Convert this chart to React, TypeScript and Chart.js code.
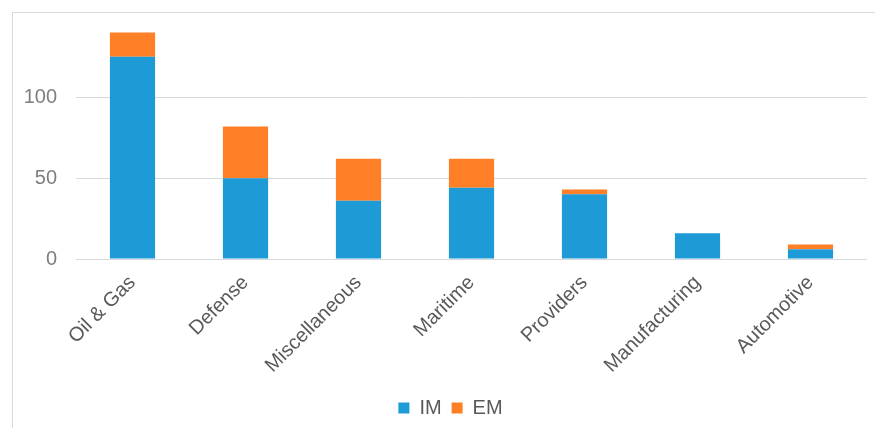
import React, { useEffect, useRef } from "react";
import { Chart, registerables } from "chart.js";

Chart.register(...registerables);

const categories = ["Oil & Gas", "Defense", "Miscellaneous", "Maritime", "Providers", "Manufacturing", "Automotive"];
const imValues = [125, 50, 36, 44, 40, 16, 6];
const emValues = [15, 32, 26, 18, 3, 0, 3];
const yTicks = [0, 50, 100];

const legendShift = {
  id: "legendShift",
  afterLayout(chart: any) {
    if (chart.legend) {
      chart.legend.left += 17;
      chart.legend.right += 17;
    }
  },
};

export default function App() {
  const ref = useRef<HTMLCanvasElement>(null);
  useEffect(() => {
    if (!ref.current) return;
    const chart = new Chart(ref.current, {
      type: "bar",
      data: {
        labels: categories,
        datasets: [
          { label: "IM", data: imValues, backgroundColor: "#1E9BD7", barPercentage: 0.4, categoryPercentage: 1 },
          { label: "EM", data: emValues, backgroundColor: "#FF7F27", barPercentage: 0.4, categoryPercentage: 1 },
        ],
      },
      plugins: [legendShift],
      options: {
        animation: false,
        responsive: false,
        maintainAspectRatio: false,
        layout: { padding: { top: 19.5, right: 8, left: 0, bottom: 0 } },
        plugins: {
          legend: {
            position: "bottom",
            labels: {
              boxWidth: 11,
              boxHeight: 11,
              color: "#595959",
              font: { family: "Liberation Sans", size: 20 },
              padding: 10,
            },
          },
          tooltip: { enabled: false },
        },
        scales: {
          x: {
            stacked: true,
            grid: { display: false },
            border: { display: false },
            ticks: {
              minRotation: 45,
              maxRotation: 45,
              color: "#595959",
              font: { family: "Liberation Sans", size: 20 },
              padding: 4,
            },
            afterFit: (s: any) => { s.height = 129; },
          },
          y: {
            stacked: true,
            min: 0,
            max: 141,
            afterBuildTicks: (s: any) => { s.ticks = yTicks.map((v) => ({ value: v })); },
            grid: { color: "#d9d9d9", lineWidth: 1, drawTicks: false },
            border: { display: false },
            ticks: {
              color: "#7f7f7f",
              font: { family: "Liberation Sans", size: 20 },
              padding: 19,
            },
            afterFit: (s: any) => { s.width = 76; },
          },
        },
      },
    });
    return () => chart.destroy();
  }, []);
  return (
    <div style={{ position: "fixed", left: 0, top: 0, width: 875, height: 428, background: "#fff", overflow: "hidden" }}>
      <div style={{ position: "absolute", left: 12, top: 12, right: -2, bottom: -2, borderLeft: "1px solid #d9d9d9", borderTop: "1px solid #d9d9d9" }} />
      <canvas ref={ref} width={875} height={428} style={{ position: "absolute", left: 0, top: 0 }} />
    </div>
  );
}
